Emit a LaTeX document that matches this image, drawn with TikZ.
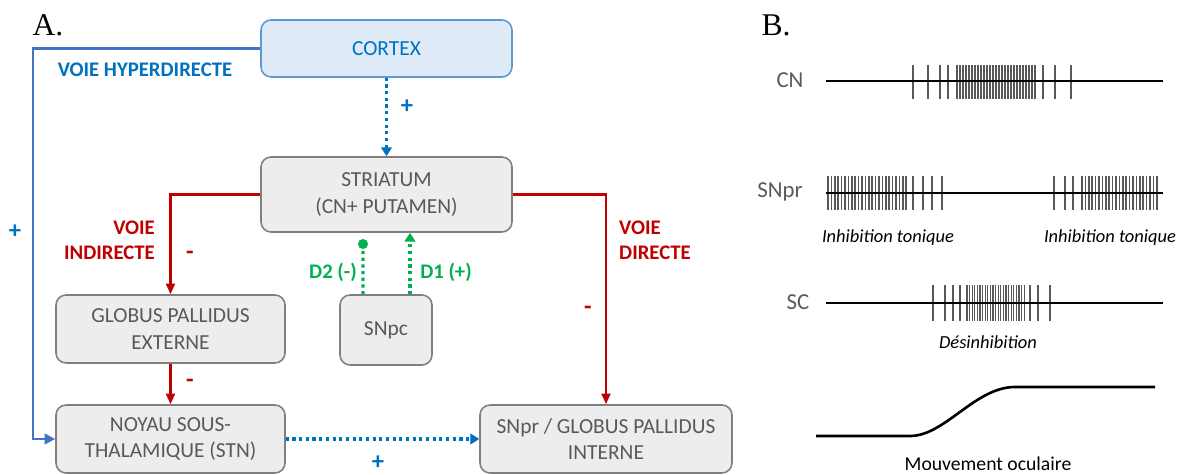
\documentclass[tikz,border=0pt]{standalone}
\usepackage{fontspec}
\setmainfont{Carlito}
\newfontfamily\letterfont{Liberation Serif}
\usepackage{xcolor}
\usepackage{tikz}
\usetikzlibrary{positioning,arrows.meta}
\definecolor{boxgray}{HTML}{EDEDED}
\definecolor{edgegray}{HTML}{7F7F7F}
\definecolor{txtgray}{HTML}{595959}
\definecolor{cortexfill}{HTML}{DEEBF7}
\definecolor{cortexedge}{HTML}{5B9BD5}
\definecolor{blueline}{HTML}{4472C4}
\definecolor{bluetxt}{HTML}{0070C0}
\definecolor{redline}{HTML}{C00000}
\definecolor{dopagreen}{HTML}{00B050}

\begin{document}
\begin{tikzpicture}[x=0.02cm,y=-0.02cm,
  box/.style={draw=edgegray,fill=boxgray,rounded corners=0.2cm,line width=0.9pt,
    text=txtgray,align=center,font=\fontsize{12.2}{15}\selectfont},
  excit/.style={bluetxt,line width=1.8pt,dotted,-{Triangle[length=5pt,width=6pt]}},
  inhib/.style={redline,line width=1.3pt,-{Triangle[length=6pt,width=5pt]}},
  dopa/.style={dopagreen,line width=1.8pt,dotted},
  sign/.style={font=\bfseries\fontsize{14}{16}\selectfont},
  pathlbl/.style={font=\bfseries\fontsize{11.8}{14}\selectfont},
  spike/.style={black!65,line width=0.9pt},
  trace/.style={black,line width=1.5pt},
  rowlbl/.style={text=txtgray,font=\fontsize{13}{15}\selectfont},
  note/.style={font=\itshape\fontsize{10.5}{12}\selectfont}]
\useasboundingbox (0,0) rectangle (1180,475);

% A. circuit
\node[font=\letterfont\fontsize{18}{20}\selectfont] (lettera) at (48,25) {A.};
\node[box,draw=cortexedge,fill=cortexfill,text=bluetxt,minimum width=5.02cm,minimum height=1.14cm] (cortex) at (386.5,48.5) {CORTEX};
\node[box,minimum width=5.02cm,minimum height=1.5cm] (striatum) at (386.5,194.5) {STRIATUM\\(CN+ PUTAMEN)};
\node[box,minimum width=4.58cm,minimum height=1.36cm] (gpe) at (170.5,329) {GLOBUS PALLIDUS\\EXTERNE};
\node[box,minimum width=1.84cm,minimum height=1.4cm] (snpc) at (386,330) {SNpc};
\node[box,minimum width=4.58cm,minimum height=1.36cm] (stn) at (170.5,439) {NOYAU SOUS-\\THALAMIQUE (STN)};
\node[box,minimum width=5.04cm,minimum height=1.36cm] (snpr) at (606,439) {SNpr / GLOBUS PALLIDUS\\INTERNE};

% hyperdirect
\coordinate (hyp) at (33,48.5);
\draw[blueline,line width=1.7pt,-{Triangle[length=6pt,width=6pt]}] (cortex.west) -- (hyp) |- (stn.west);
\node[pathlbl,text=bluetxt] (hyplbl) at (145,70) {VOIE HYPERDIRECTE};
\node[sign,text=bluetxt] (hypsign) at (15,232) {+};

\draw[excit] (cortex) -- (striatum);
\node[sign,text=bluetxt] (ctxsign) at (407,107) {+};
\draw[excit] (stn.east) -- (snpr.west);
\node[sign,text=bluetxt] (stnsign) at (378,463) {+};

% indirect / direct
\draw[inhib] (striatum.west) -| (gpe.north);
\node[pathlbl,text=redline,align=right,anchor=east] (indlbl) at (161,240) {VOIE\\INDIRECTE};
\node[sign,text=redline] (indsign) at (190,255) {-};
\draw[inhib] (gpe) -- (stn);
\node[sign,text=redline] (gpesign) at (190,383) {-};
\draw[inhib] (striatum.east) -| (snpr.north);
\node[pathlbl,text=redline,align=left,anchor=west] (dirlbl) at (613,240) {VOIE\\DIRECTE};
\node[sign,text=redline] (dirsign) at (588,310) {-};

% dopamine
\coordinate (d2end) at (363,244);
\draw[dopa] ([xshift=-0.46cm]snpc.north) -- (d2end);
\fill[dopagreen] (d2end) circle (0.1cm);
\draw[dopa,-{Triangle[length=5pt,width=6pt]}] ([xshift=0.48cm]snpc.north) -- ([xshift=0.48cm]snpc.north |- striatum.south);
\node[pathlbl,text=dopagreen] (d2lbl) at (333,272) {D2 (-)};
\node[pathlbl,text=dopagreen] (d1lbl) at (446,272) {D1 (+)};

% B. activity
\node[font=\letterfont\fontsize{18}{20}\selectfont] (letterb) at (776,25) {B.};
\node[rowlbl] (cn) at (790,80) {CN};
\foreach \x in {913,928,940,948,957,960,...,1035,1043,1055,1071}
  \draw[spike] (\x,65) -- (\x,99);
\draw[trace] (826,81) -- (1163,81);

\node[rowlbl] (snprrow) at (780,192) {SNpr};
\foreach \x in {828,831.4,...,907,913,923,932,942,1054,1065,1073,1082,1085.4,...,1160}
  \draw[spike] (\x,176) -- (\x,210);
\draw[trace] (826,193) -- (1163,193);
\node[note] (tonic1) at (888,238) {Inhibition tonique};
\node[note] (tonic2) at (1110,238) {Inhibition tonique};

\node[rowlbl] (sc) at (798,302) {SC};
\foreach \x in {933,945,953,960,1030,1038,1050}
  \draw[spike] (\x,285) -- (\x,321);
\foreach \x in {967,969.6,...,1025}
  \draw[spike,line width=0.6pt] (\x,285) -- (\x,321);
\draw[trace] (826,303) -- (1163,303);
\node[note] (desinh) at (988,342) {Désinhibition};

\draw[trace] (816,436) -- (910,436) .. controls (945,436) and (975,387) .. (1015,387) -- (1155,387);
\node[font=\fontsize{11.2}{13}\selectfont] (saccade) at (988,464) {Mouvement oculaire};
\end{tikzpicture}
\end{document}
